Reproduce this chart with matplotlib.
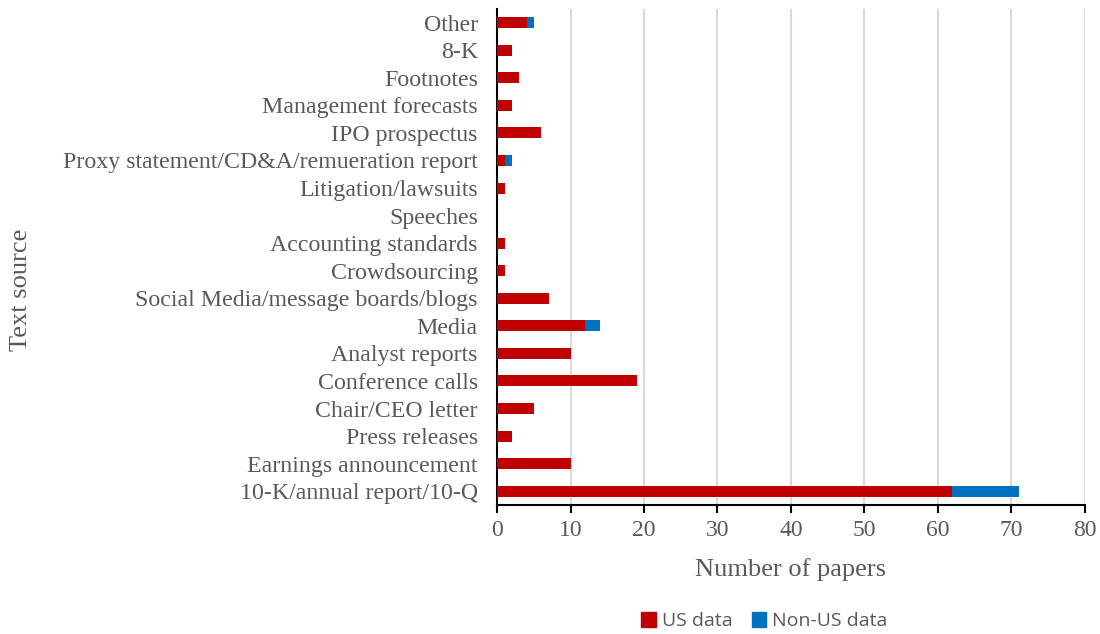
import matplotlib
matplotlib.use("Agg")
import matplotlib.pyplot as plt
from matplotlib.patches import Patch

categories = ["10-K/annual report/10-Q", "Earnings announcement", "Press releases",
              "Chair/CEO letter", "Conference calls", "Analyst reports", "Media",
              "Social Media/message boards/blogs", "Crowdsourcing", "Accounting standards",
              "Speeches", "Litigation/lawsuits", "Proxy statement/CD&A/remueration report",
              "IPO prospectus", "Management forecasts", "Footnotes", "8-K", "Other"]
us_data = [62, 10, 2, 5, 19, 10, 12, 7, 1, 1, 0, 1, 1, 6, 2, 3, 2, 4]
non_us_data = [9, 0, 0, 0, 0, 0, 2, 0, 0, 0, 0, 0, 1, 0, 0, 0, 0, 1]
x_ticks = [0, 10, 20, 30, 40, 50, 60, 70, 80]

RED = "#C00000"
BLUE = "#0070C0"
GREY = "#595959"
SERIF = ["Liberation Serif", "DejaVu Serif"]
SANS = ["Open Sans", "DejaVu Sans"]

fig = plt.figure(figsize=(11, 6.34), dpi=100)
ax = fig.add_axes([0.452, 0.2035, 0.534, 0.7825])

y = list(range(len(categories)))
ax.barh(y, us_data, height=0.4, color=RED, label="US data", zorder=3)
ax.barh(y, non_us_data, left=us_data, height=0.4, color=BLUE, label="Non-US data", zorder=3)

ax.set_ylim(-0.5, len(categories) - 0.5)
ax.set_xlim(0, 80)
ax.set_xticks(x_ticks)
ax.set_yticks(y)
ax.set_yticklabels(categories, fontfamily=SERIF, fontsize=17.2, color=GREY)
for lbl in ax.get_xticklabels():
    lbl.set_fontfamily(SERIF)
    lbl.set_fontsize(17)
    lbl.set_color(GREY)

ax.grid(axis="x", color="#D9D9D9", linewidth=1.5, zorder=0)
for s in ["top", "right"]:
    ax.spines[s].set_visible(False)
ax.spines["left"].set_color("black")
ax.spines["left"].set_linewidth(1.5)
ax.spines["bottom"].set_color("black")
ax.spines["bottom"].set_linewidth(1.5)
ax.tick_params(axis="y", length=0, pad=14)
ax.tick_params(axis="x", length=6, width=1.5, color="black", direction="out", pad=5)

ax.set_xlabel("Number of papers", fontfamily=SERIF, fontsize=19, color=GREY, labelpad=12)
fig.text(0.019, 0.543, "Text source", rotation=90, fontfamily=SERIF, fontsize=19,
         color=GREY, ha="center", va="center")

handles = [Patch(color=RED, label="US data"), Patch(color=BLUE, label="Non-US data")]
leg = fig.legend(handles=handles, loc="center", bbox_to_anchor=(0.695, 0.02), ncol=2,
                 frameon=False, prop={"family": SANS, "size": 14},
                 handlelength=0.75, handleheight=0.75, handletextpad=0.3, columnspacing=1.0)
for t in leg.get_texts():
    t.set_color(GREY)

fig.savefig("out.png", dpi=100)
